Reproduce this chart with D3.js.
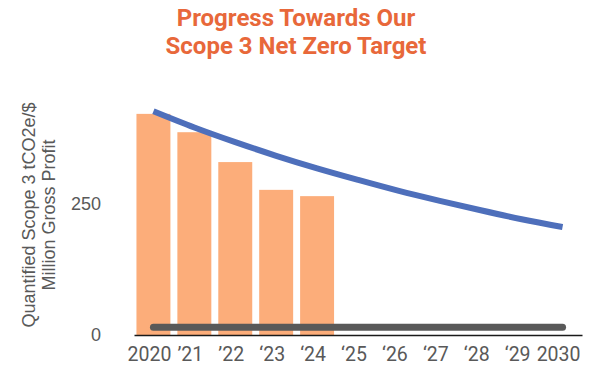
<!DOCTYPE html>
<html>
<head>
<meta charset="utf-8">
<script src="https://cdn.jsdelivr.net/npm/d3@7"></script>
<style>
  html, body { margin: 0; padding: 0; background: #fff; }
  svg { display: block; }
</style>
</head>
<body>
<svg id="chart" width="594" height="384"></svg>
<script>
const categories = ["2020", "\u201921", "\u201922", "\u201823", "\u201824", "\u201825", "\u201826", "\u201827", "\u201828", "\u201829", "2030"];
const actualValues = [422, 387, 330, 277, 265];
const trajectoryValues = [427, 396, 368, 342, 318, 296, 275, 256, 238, 221, 206];
const netZeroValues = [15, 15, 15, 15, 15, 15, 15, 15, 15, 15, 15];
const yTicks = [0, 250];
const titleLines = ["Progress Towards Our", "Scope 3 Net Zero Target"];
const yTitleLines = ["Quantified Scope 3 tCO2e/$", "Million Gross Profit"];

const svg = d3.select("#chart");
const margin = { left: 134, right: 12, top: 73, bottom: 49 };
const W = 594, H = 384;

const x = d3.scaleBand().domain(categories).range([margin.left, W - margin.right]).paddingInner(0.17).paddingOuter(0.06);
const y = d3.scaleLinear().domain([0, 500]).range([H - margin.bottom, H - margin.bottom - 500 * 0.524]);

// title
svg.append("g").selectAll("text").data(titleLines).join("text")
  .attr("x", 296).attr("y", (d, i) => 26 + i * 28)
  .attr("text-anchor", "middle")
  .style("font-family", "Roboto, sans-serif").style("font-weight", "700").style("font-size", "24px")
  .attr("fill", "#E8683A").text(d => d);

// bars
svg.append("g").selectAll("rect").data(actualValues).join("rect")
  .attr("x", (d, i) => x(categories[i]))
  .attr("width", x.bandwidth())
  .attr("y", d => y(d))
  .attr("height", d => y(0) - y(d))
  .attr("fill", "#FCAD7A");

// net zero line
const line = d3.line().x((d, i) => x(categories[i]) + x.bandwidth() / 2).y(d => y(d));
svg.append("path").datum(netZeroValues).attr("d", line)
  .attr("fill", "none").attr("stroke", "#595959").attr("stroke-width", 7).attr("stroke-linecap", "round");

// trajectory line
svg.append("path").datum(trajectoryValues).attr("d", line.curve(d3.curveMonotoneX))
  .attr("fill", "none").attr("stroke", "#4E6FBB").attr("stroke-width", 6);

// x axis
const xAxis = svg.append("g").attr("transform", `translate(0,${y(0)})`)
  .call(d3.axisBottom(x).tickSize(0).tickPadding(12));
xAxis.select(".domain").attr("stroke", "#1a1a1a").attr("stroke-width", 1.5);
xAxis.selectAll("text").attr("dx", -4)
  .style("font-family", "Roboto, sans-serif").style("font-size", "19.5px").attr("fill", "#595959");

// y axis
const yAxis = svg.append("g").attr("transform", `translate(${margin.left - 33},0)`)
  .call(d3.axisLeft(y).tickValues(yTicks).tickSize(0).tickPadding(0));
yAxis.select(".domain").remove();
yAxis.selectAll("text")
  .style("font-family", "'Liberation Sans', Arial, sans-serif").style("font-size", "18px").attr("fill", "#595959");

// y title
svg.append("g").attr("transform", "translate(0,215) rotate(-90)")
  .selectAll("text").data(yTitleLines).join("text")
  .attr("x", 0).attr("y", (d, i) => 35 + i * 20)
  .attr("text-anchor", "middle")
  .style("font-family", "'Liberation Sans', Arial, sans-serif").style("font-size", "18px")
  .attr("fill", "#595959").text(d => d);
</script>
</body>
</html>
